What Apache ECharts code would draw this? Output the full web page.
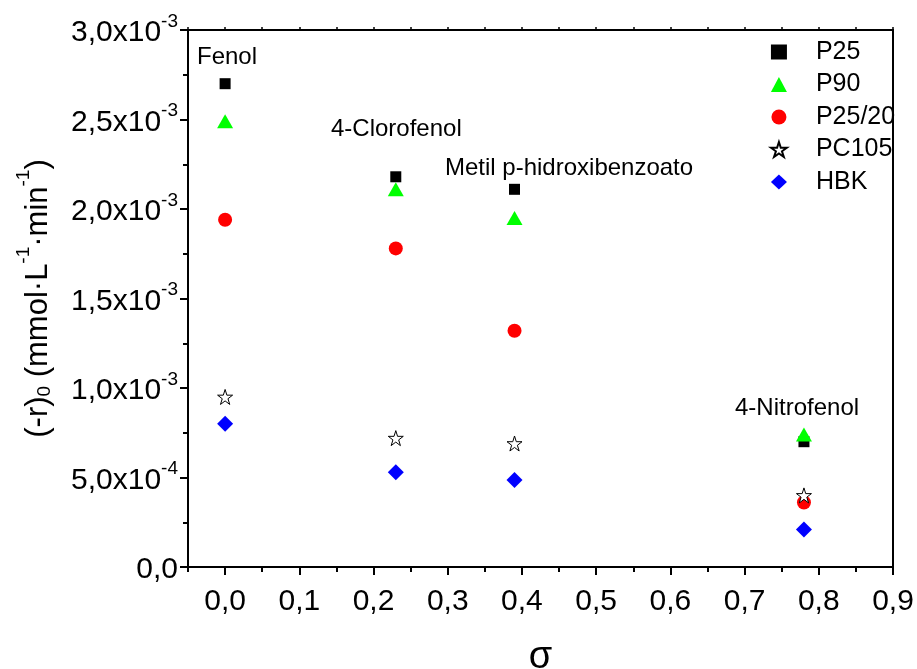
<!DOCTYPE html>
<html>
<head>
<meta charset="utf-8">
<script src="https://cdn.jsdelivr.net/npm/echarts@6/dist/echarts.min.js"></script>
<style>
  html, body { margin: 0; padding: 0; background: #fff; }
  #chart { width: 917px; height: 669px; }
</style>
</head>
<body>
<div id="chart"></div>
<script>
// sigma de Hammett de cada compuesto
const sigma = [0, 0.23, 0.39, 0.78]
const compounds = ['Fenol', '4-Clorofenol', 'Metil p-hidroxibenzoato', '4-Nitrofenol']

// velocidad inicial (-r)0, mmol/(L*min)
const p25 = [2.70e-3, 2.18e-3, 2.11e-3, 0.70e-3]
const p90 = [2.49e-3, 2.11e-3, 1.95e-3, 0.74e-3]
const p2520 = [1.94e-3, 1.78e-3, 1.32e-3, 0.36e-3]
const pc105 = [0.95e-3, 0.72e-3, 0.69e-3, 0.40e-3]
const hbk = [0.80e-3, 0.53e-3, 0.486e-3, 0.21e-3]

const xMajorTicks = [0, 0.1, 0.2, 0.3, 0.4, 0.5, 0.6, 0.7, 0.8, 0.9]

const FONT = '"Liberation Sans", Arial, sans-serif'
const STAR = 'path://M50,2 L61.2,36.3 L97.6,36.3 L68.2,57.7 L79.4,92 L50,70.8 L20.6,92 L31.8,57.7 L2.4,36.3 L38.8,36.3 Z'

const GRID = { left: 188, right: 24, top: 30, bottom: 102 }
const W = 917
const H = 669

const pairs = (ys) => sigma.map((x, i) => [x, ys[i]])

const yFmt = (v) => {
  if (Math.abs(v) < 1e-12) return '{b|0,0}'
  const e = v < 9.99e-4 ? -4 : -3
  const m = v / Math.pow(10, e)
  return '{b|' + m.toFixed(1).replace('.', ',') + 'x10}{s|' + e + '}'
}

const axisLine = (w) => ({ show: true, onZero: false, lineStyle: { color: '#000', width: w } })

const chart = echarts.init(document.getElementById('chart'))

const option = {
  backgroundColor: '#fff',
  animation: false,
  grid: Object.assign({ containLabel: false, outerBoundsMode: 'none' }, GRID),
  legend: {
    orient: 'vertical',
    left: 765,
    top: 34,
    itemWidth: 16,
    itemHeight: 15,
    itemGap: 6.5,
    textStyle: { fontFamily: FONT, fontSize: 25, color: '#000', lineHeight: 26, padding: [0, 0, 0, 24] },
    data: ['P25', 'P90', 'P25/20', 'PC105', 'HBK']
  },
  xAxis: [
    {
      type: 'value',
      position: 'bottom',
      min: -0.05,
      max: 0.9,
      splitLine: { show: false },
      axisLine: axisLine(2),
      axisTick: { show: true, customValues: xMajorTicks, length: 8, lineStyle: { color: '#000', width: 2 } },
      axisLabel: {
        customValues: xMajorTicks,
        margin: 20,
        fontFamily: FONT,
        fontSize: 30,
        color: '#000',
        formatter: (v) => v.toFixed(1).replace('.', ',')
      },
      name: 'σ',
      nameLocation: 'middle',
      nameGap: 72,
      nameTextStyle: { fontFamily: FONT, fontSize: 38, color: '#000' }
    },
    {
      type: 'value',
      position: 'bottom',
      min: -0.05,
      max: 0.9,
      interval: 0.05,
      splitLine: { show: false },
      axisLine: { show: false, onZero: false },
      axisTick: { show: true, length: 5, lineStyle: { color: '#000', width: 2 } },
      axisLabel: { show: false }
    },
    {
      type: 'value',
      position: 'top',
      min: -0.05,
      max: 0.9,
      interval: 0.05,
      splitLine: { show: false },
      axisLine: axisLine(2),
      axisTick: { show: true, length: 3, lineStyle: { color: '#000', width: 1.5 } },
      axisLabel: { show: false }
    }
  ],
  yAxis: [
    {
      type: 'value',
      position: 'left',
      min: 0,
      max: 3e-3,
      interval: 5e-4,
      splitLine: { show: false },
      axisLine: axisLine(2),
      axisTick: { show: true, length: 8, lineStyle: { color: '#000', width: 2 } },
      minorTick: { show: true, splitNumber: 2, length: 5, lineStyle: { color: '#000', width: 2 } },
      axisLabel: {
        margin: 10,
        formatter: yFmt,
        rich: {
          b: { fontFamily: FONT, fontSize: 30, color: '#000', lineHeight: 36, verticalAlign: 'bottom' },
          s: { fontFamily: FONT, fontSize: 19, color: '#000', lineHeight: 20, verticalAlign: 'top' }
        }
      },
      name: '{m|(-r)}{d|0}{m| (mmol·L}{u|-1}{m|·min}{u|-1}{m|)}',
      nameLocation: 'middle',
      nameRotate: 90,
      nameGap: 134,
      nameTextStyle: {
        rich: {
          m: { fontFamily: FONT, fontSize: 31, color: '#000', lineHeight: 40, verticalAlign: 'bottom' },
          u: { fontFamily: FONT, fontSize: 19, color: '#000', lineHeight: 20, verticalAlign: 'top' },
          d: { fontFamily: FONT, fontSize: 19, color: '#000', lineHeight: 2, verticalAlign: 'bottom' }
        }
      }
    },
    {
      type: 'value',
      position: 'right',
      min: 0,
      max: 3e-3,
      interval: 5e-4,
      splitLine: { show: false },
      axisLine: axisLine(2),
      axisTick: { show: false },
      axisLabel: { show: false }
    }
  ],
  graphic: [
    // marco del área de trazado (por si las líneas de eje no se pintan)
    {
      type: 'rect',
      z: 100,
      silent: true,
      shape: { x: GRID.left, y: GRID.top, width: W - GRID.left - GRID.right, height: H - GRID.top - GRID.bottom },
      style: { fill: null, stroke: '#000', lineWidth: 2 }
    },
    { type: 'text', x: 197, y: 57, style: { text: compounds[0], font: '24px ' + FONT, fill: '#000', verticalAlign: 'middle' } },
    { type: 'text', x: 331, y: 129, style: { text: compounds[1], font: '24px ' + FONT, fill: '#000', verticalAlign: 'middle' } },
    { type: 'text', x: 445, y: 168, style: { text: compounds[2], font: '24px ' + FONT, fill: '#000', verticalAlign: 'middle' } },
    { type: 'text', x: 735, y: 408, style: { text: compounds[3], font: '24px ' + FONT, fill: '#000', verticalAlign: 'middle' } }
  ],
  series: [
    {
      name: 'P25', type: 'scatter', data: pairs(p25),
      symbol: 'rect', symbolSize: 11,
      itemStyle: { color: '#000', opacity: 1 }
    },
    {
      name: 'P90', type: 'scatter', data: pairs(p90),
      symbol: 'triangle', symbolSize: [16, 14],
      itemStyle: { color: '#00ff00', opacity: 1 }
    },
    {
      name: 'P25/20', type: 'scatter', data: pairs(p2520),
      symbol: 'circle', symbolSize: 14,
      itemStyle: { color: '#ff0000', opacity: 1 }
    },
    {
      name: 'PC105', type: 'scatter', data: pairs(pc105),
      symbol: STAR, symbolSize: 15,
      itemStyle: { color: '#fff', borderColor: '#000', borderWidth: 1, opacity: 1 }
    },
    {
      name: 'HBK', type: 'scatter', data: pairs(hbk),
      symbol: 'diamond', symbolSize: 16,
      itemStyle: { color: '#0000ff', opacity: 1 }
    }
  ]
}

chart.setOption(option)
</script>
</body>
</html>
